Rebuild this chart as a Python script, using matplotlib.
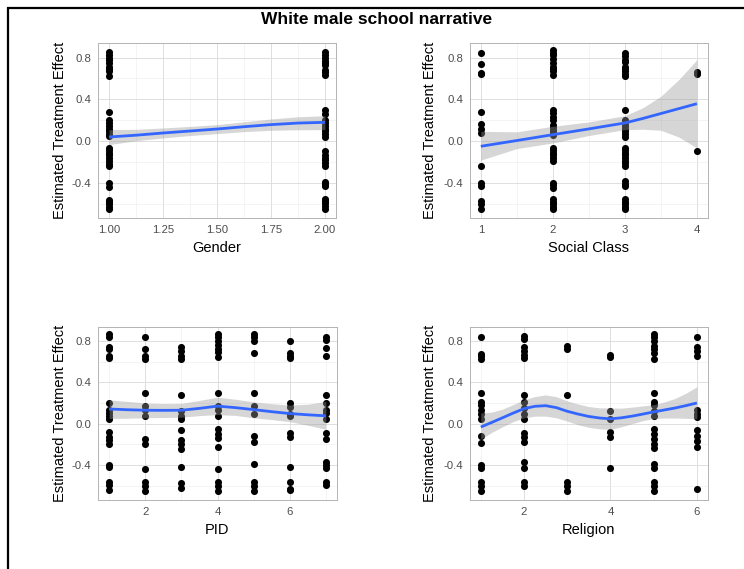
import matplotlib
matplotlib.use("Agg")
import matplotlib.pyplot as plt
from matplotlib.patches import Rectangle
from matplotlib.ticker import FixedLocator

plt.rcParams["font.family"] = ["Liberation Sans", "DejaVu Sans"]

TITLE = "White male school narrative"
Y_LABEL = "Estimated Treatment Effect"

# ---- Gender ----
gender_levels = [1.0, 2.0]
gender_effects = [
    [0.857, 0.825, 0.778, 0.746, 0.714, 0.667, 0.625, 0.276, 0.200, 0.143,
     0.095, 0.054, -0.063, -0.111, -0.159, -0.190, -0.238, -0.397, -0.435,
     -0.562, -0.603, -0.651, 0.80, 0.69, 0.12, 0.07, -0.085, -0.135, -0.215,
     -0.58, -0.625, 0.17],
    [0.857, 0.825, 0.771, 0.730, 0.683, 0.635, 0.295, 0.263, 0.206, 0.143,
     0.095, 0.041, -0.095, -0.127, -0.159, -0.206, -0.238, -0.390, -0.429,
     -0.556, -0.594, -0.644, 0.80, 0.75, 0.66, 0.17, 0.12, 0.065, -0.18,
     -0.41, -0.575, -0.62],
]
gender_fit_x = [1.0, 1.125, 1.25, 1.375, 1.5, 1.625, 1.75, 1.875, 2.0]
gender_fit = [0.041, 0.058, 0.079, 0.098, 0.117, 0.139, 0.159, 0.174, 0.181]
gender_lo = [-0.032, 0.005, 0.032, 0.055, 0.073, 0.092, 0.105, 0.110, 0.111]
gender_hi = [0.111, 0.114, 0.127, 0.142, 0.159, 0.186, 0.213, 0.234, 0.244]

# ---- Social class ----
class_levels = [1, 2, 3, 4]
class_effects = [
    [0.841, 0.737, 0.657, 0.641, 0.276, 0.168, 0.118, 0.079, -0.232,
     -0.397, -0.429, -0.571, -0.603, -0.651],
    [0.873, 0.848, 0.825, 0.746, 0.714, 0.667, 0.635, 0.302, 0.270, 0.200,
     0.159, 0.111, 0.063, -0.063, -0.111, -0.159, -0.190, -0.397, -0.444,
     -0.556, -0.603, -0.651, 0.79, 0.69, 0.23, 0.135, 0.085, -0.085, -0.135,
     -0.42, -0.58, -0.625],
    [0.848, 0.816, 0.762, 0.714, 0.667, 0.625, 0.295, 0.206, 0.143, 0.095,
     0.041, -0.063, -0.111, -0.159, -0.206, -0.238, -0.381, -0.429, -0.556,
     -0.603, -0.651, 0.78, 0.69, 0.645, 0.175, 0.12, 0.07, -0.085, -0.135,
     -0.185, -0.405, -0.58, -0.625],
    [0.660, 0.644, -0.095],
]
class_fit_x = [1.0, 1.5, 2.0, 2.5, 3.0, 3.25, 3.5, 3.75, 4.0]
class_fit = [-0.048, 0.007, 0.063, 0.118, 0.175, 0.218, 0.265, 0.312, 0.359]
class_lo = [-0.180, -0.070, -0.016, 0.055, 0.111, 0.115, 0.105, 0.040, -0.063]
class_hi = [0.095, 0.090, 0.143, 0.185, 0.244, 0.320, 0.430, 0.590, 0.778]

# ---- PID ----
pid_levels = [1, 2, 3, 4, 5, 6, 7]
pid_effects = [
    [0.863, 0.840, 0.743, 0.720, 0.658, 0.633, 0.200, 0.137, 0.105, 0.074,
     0.042, -0.084, -0.125, -0.157, -0.195, -0.394, -0.422, -0.558, -0.589,
     -0.637],
    [0.838, 0.720, 0.658, 0.626, 0.295, 0.168, 0.137, 0.074, -0.147, -0.195,
     -0.437, -0.558, -0.599, -0.652],
    [0.737, 0.705, 0.658, 0.626, 0.273, 0.121, 0.074, 0.042, -0.060, -0.154,
     -0.195, -0.242, -0.416, -0.574, -0.621],
    [0.863, 0.840, 0.800, 0.759, 0.720, 0.690, 0.642, 0.301, 0.168, 0.137,
     0.074, -0.053, -0.100, -0.142, -0.227, -0.437, -0.567, -0.605, -0.652],
    [0.863, 0.832, 0.800, 0.680, 0.300, 0.168, 0.090, -0.117, -0.180, -0.390,
     -0.558, -0.605, -0.646],
    [0.800, 0.680, 0.652, 0.633, 0.200, 0.158, 0.095, 0.074, -0.085, -0.126,
     -0.416, -0.558, -0.627, -0.643],
    [0.840, 0.810, 0.730, 0.658, 0.280, 0.200, 0.137, 0.105, 0.042, -0.085,
     -0.147, -0.368, -0.400, -0.425, -0.567, -0.589],
]
pid_fit_x = [1, 1.5, 2, 2.5, 3, 3.5, 4, 4.5, 5, 5.5, 6, 6.5, 7]
pid_fit = [0.142, 0.135, 0.130, 0.129, 0.130, 0.148, 0.170, 0.155, 0.136,
           0.116, 0.098, 0.086, 0.076]
pid_lo = [0.050, 0.053, 0.057, 0.060, 0.063, 0.078, 0.088, 0.080, 0.057,
          0.040, 0.020, -0.015, -0.054]
pid_hi = [0.230, 0.215, 0.200, 0.195, 0.196, 0.225, 0.256, 0.236, 0.211,
          0.193, 0.180, 0.188, 0.215]

# ---- Religion ----
religion_levels = [1, 2, 3, 4, 5, 6]
religion_effects = [
    [0.838, 0.674, 0.652, 0.626, 0.294, 0.210, 0.180, 0.137, 0.090, 0.050,
     -0.117, -0.190, -0.400, -0.430, -0.567, -0.605, -0.646],
    [0.847, 0.816, 0.737, 0.705, 0.664, 0.633, 0.280, 0.210, 0.152, 0.090,
     0.042, -0.085, -0.132, -0.180, -0.368, -0.430, -0.567, -0.605],
    [0.753, 0.720, 0.278, -0.558, -0.600, -0.652],
    [0.667, 0.642, 0.120, 0.041, -0.076, -0.132, -0.430],
    [0.863, 0.832, 0.800, 0.753, 0.720, 0.683, 0.626, 0.300, 0.210, 0.180,
     0.120, 0.074, -0.053, -0.100, -0.147, -0.196, -0.236, -0.384, -0.430,
     -0.558, -0.600, -0.646],
    [0.838, 0.737, 0.705, 0.658, 0.137, 0.090, 0.068, -0.063, -0.117,
     -0.164, -0.227, -0.630],
]
religion_fit_x = [1, 1.25, 1.5, 1.75, 2, 2.25, 2.5, 2.75, 3, 3.25, 3.5,
                  3.75, 4, 4.25, 4.5, 4.75, 5, 5.25, 5.5, 5.75, 6]
religion_fit = [-0.032, 0.012, 0.057, 0.103, 0.145, 0.168, 0.174, 0.155,
                0.120, 0.093, 0.070, 0.055, 0.047, 0.057, 0.073, 0.093,
                0.114, 0.133, 0.152, 0.175, 0.200]
religion_lo = [-0.148, -0.085, -0.030, 0.020, 0.057, 0.073, 0.073, 0.057,
               0.025, -0.010, -0.035, -0.050, -0.054, -0.030, 0.000, 0.030,
               0.050, 0.055, 0.055, 0.052, 0.047]
religion_hi = [0.104, 0.112, 0.140, 0.185, 0.230, 0.262, 0.278, 0.260,
               0.220, 0.190, 0.165, 0.153, 0.152, 0.150, 0.160, 0.172,
               0.183, 0.210, 0.245, 0.295, 0.357]

panels = [
    dict(name="Gender", levels=gender_levels, effects=gender_effects,
         fx=gender_fit_x, fy=gender_fit, lo=gender_lo, hi=gender_hi,
         xlim=(0.95, 2.05), major=[1.0, 1.25, 1.5, 1.75, 2.0],
         minor=[1.125, 1.375, 1.625, 1.875], fmt="{:.2f}",
         rect=(98.3, 43.3, 335.7, 218.3), ylab_x=-0.130),
    dict(name="Social Class", levels=class_levels, effects=class_effects,
         fx=class_fit_x, fy=class_fit, lo=class_lo, hi=class_hi,
         xlim=(0.85, 4.15), major=[1, 2, 3, 4], minor=[1.5, 2.5, 3.5],
         fmt="{:d}", rect=(470.0, 43.3, 707.7, 218.3), ylab_x=-0.138),
    dict(name="PID", levels=pid_levels, effects=pid_effects,
         fx=pid_fit_x, fy=pid_fit, lo=pid_lo, hi=pid_hi,
         xlim=(0.7, 7.3), major=[2, 4, 6], minor=[1, 3, 5, 7],
         fmt="{:d}", rect=(98.3, 326.7, 336.7, 500.0), ylab_x=-0.130),
    dict(name="Religion", levels=religion_levels, effects=religion_effects,
         fx=religion_fit_x, fy=religion_fit, lo=religion_lo, hi=religion_hi,
         xlim=(0.75, 6.25), major=[2, 4, 6], minor=[1, 3, 5],
         fmt="{:d}", rect=(470.0, 326.7, 707.7, 500.0), ylab_x=-0.138),
]

W, H = 744, 569
fig = plt.figure(figsize=(W / 100, H / 100), dpi=100)
fig.patch.set_facecolor("white")

# outer frame running off the right and bottom edges
fig.add_artist(Rectangle((8 / W, -0.05), 1.2, 1 - 8 / H + 0.05,
                         transform=fig.transFigure, fill=False,
                         edgecolor="black", linewidth=1.6))

fig.text(377 / W, 1 - 19.5 / H, TITLE, ha="center", va="center",
         fontsize=12.5, fontweight="bold", color="black")

y_major = [-0.4, 0.0, 0.4, 0.8]
y_minor = [-0.6, -0.2, 0.2, 0.6]

for p in panels:
    x0, y0, x1, y1 = p["rect"]
    ax = fig.add_axes([x0 / W, 1 - y1 / H, (x1 - x0) / W, (y1 - y0) / H])
    ax.set_facecolor("white")
    ax.set_xlim(*p["xlim"])
    ax.set_ylim(-0.736, 0.936)

    ax.xaxis.set_major_locator(FixedLocator(p["major"]))
    ax.xaxis.set_minor_locator(FixedLocator(p["minor"]))
    ax.yaxis.set_major_locator(FixedLocator(y_major))
    ax.yaxis.set_minor_locator(FixedLocator(y_minor))
    ax.set_xticklabels([p["fmt"].format(v) for v in p["major"]])
    ax.set_yticklabels(["{:.1f}".format(v) for v in y_major])

    ax.grid(which="major", color="#DEDEDE", linewidth=0.7)
    ax.grid(which="minor", color="#EDEDED", linewidth=0.4)
    ax.set_axisbelow(True)
    for s in ax.spines.values():
        s.set_color("#B3B3B3")
        s.set_linewidth(0.7)
    ax.tick_params(which="major", length=0, labelsize=8.2,
                   labelcolor="#4D4D4D", pad=5)
    ax.tick_params(which="minor", length=0)

    for lvl, vals in zip(p["levels"], p["effects"]):
        ax.scatter([lvl] * len(vals), vals, s=26, color="black",
                   linewidths=0, zorder=2)

    ax.fill_between(p["fx"], p["lo"], p["hi"], color="#999999", alpha=0.4,
                    linewidth=0, zorder=3)
    ax.plot(p["fx"], p["fy"], color="#3366FF", linewidth=2.0, zorder=4,
            solid_capstyle="butt")

    ax.set_xlabel(p["name"], fontsize=10.5, color="black")
    ax.xaxis.set_label_coords(0.5, -0.132)
    ax.set_ylabel(Y_LABEL, fontsize=10.5, color="black")
    ax.yaxis.set_label_coords(p["ylab_x"], 0.5)

fig.savefig("out.png", dpi=100)
